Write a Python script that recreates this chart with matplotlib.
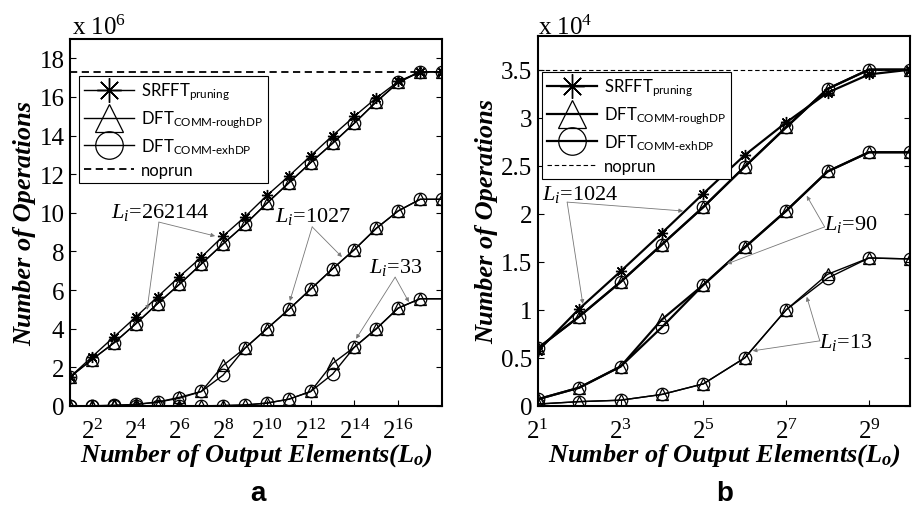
import matplotlib
matplotlib.use('Agg')
import matplotlib.pyplot as plt
import numpy as np

plt.rcParams['font.family'] = 'Liberation Serif'
plt.rcParams['mathtext.fontset'] = 'custom'
plt.rcParams['mathtext.rm'] = 'Liberation Serif'
plt.rcParams['mathtext.it'] = 'Liberation Serif:italic'
plt.rcParams['mathtext.bf'] = 'Liberation Serif:bold'
plt.rcParams['mathtext.bfit'] = 'Liberation Serif:italic:bold'

# panel a: Lo = 2^1 .. 2^18, values x 10^6
exp_a = np.arange(1, 19)
a_srfft_262144 = [1.5, 2.54, 3.57, 4.6, 5.65, 6.7, 7.7, 8.8, 9.8, 10.9, 11.9, 12.95, 14.0, 15.0, 15.95, 16.8, 17.3, 17.3]
a_rough_262144 = [1.5, 2.4, 3.26, 4.25, 5.3, 6.3, 7.35, 8.4, 9.4, 10.5, 11.55, 12.6, 13.6, 14.65, 15.75, 16.75, 17.3, 17.3]
a_exh_262144 = [1.5, 2.4, 3.26, 4.25, 5.3, 6.3, 7.35, 8.4, 9.4, 10.5, 11.55, 12.6, 13.6, 14.65, 15.75, 16.75, 17.3, 17.3]
a_rough_1027 = [0, 0.01, 0.03, 0.08, 0.2, 0.45, 0.75, 2.1, 3.0, 4.0, 5.0, 6.05, 7.1, 8.1, 9.2, 10.1, 10.7, 10.7]
a_exh_1027 = [0, 0.01, 0.03, 0.08, 0.2, 0.4, 0.75, 1.6, 3.0, 4.0, 5.0, 6.05, 7.1, 8.1, 9.2, 10.1, 10.7, 10.7]
a_rough_33 = [0, 0, 0, 0, 0, 0, 0.01, 0.02, 0.05, 0.15, 0.35, 0.75, 2.2, 3.05, 4.0, 5.07, 5.55, 5.55]
a_exh_33 = [0, 0, 0, 0, 0, 0, 0.01, 0.02, 0.05, 0.15, 0.35, 0.75, 1.65, 3.05, 4.0, 5.07, 5.55, 5.55]
a_noprun = 17.3

# panel b: Lo = 2^1 .. 2^10, values x 10^4
exp_b = np.arange(1, 11)
b_srfft_1024 = [0.57, 1.01, 1.40, 1.80, 2.21, 2.61, 2.95, 3.26, 3.45, 3.5]
b_rough_1024 = [0.6, 0.93, 1.29, 1.68, 2.07, 2.49, 2.9, 3.3, 3.5, 3.5]
b_exh_1024 = [0.6, 0.93, 1.29, 1.68, 2.07, 2.49, 2.9, 3.3, 3.5, 3.5]
b_rough_90 = [0.07, 0.19, 0.41, 0.9, 1.26, 1.65, 2.03, 2.44, 2.64, 2.64]
b_exh_90 = [0.07, 0.19, 0.41, 0.82, 1.26, 1.65, 2.03, 2.44, 2.64, 2.64]
b_rough_13 = [0.02, 0.045, 0.06, 0.12, 0.23, 0.5, 1.0, 1.37, 1.54, 1.53]
b_exh_13 = [0.02, 0.045, 0.06, 0.12, 0.23, 0.5, 1.0, 1.33, 1.54, 1.53]
b_noprun = 3.5

labels = [r'SRFFT$_{\mathregular{pruning}}$', r'DFT$_{\mathregular{COMM\text{-}roughDP}}$',
          r'DFT$_{\mathregular{COMM\text{-}exhDP}}$', 'noprun']

star = (8, 2, 0)
fig = plt.figure(figsize=(9.14, 5.06), dpi=100)
ax1 = fig.add_axes([0.0766, 0.1957, 0.407, 0.7253])
ax2 = fig.add_axes([0.5883, 0.1957, 0.4077, 0.7312])


def draw(ax, x, srfft, rough, exh, lw, last_marker=True):
    me = None if last_marker else slice(0, len(x) - 1)
    h = []
    if srfft is not None:
        h += ax.plot(x, srfft, color='k', lw=lw, marker=star, ms=8, mew=1.0, markevery=me)
    h += ax.plot(x, rough, color='k', lw=lw, marker='^', ms=9, mfc='none', mew=0.9, markevery=me)
    h += ax.plot(x, exh, color='k', lw=lw, marker='o', ms=9, mfc='none', mew=0.9, markevery=me)
    return h


xa = 2.0 ** exp_a
hs = draw(ax1, xa, a_srfft_262144, a_rough_262144, a_exh_262144, 1.0)
draw(ax1, xa, None, a_rough_1027, a_exh_1027, 1.0)
draw(ax1, xa, None, a_rough_33, a_exh_33, 1.0, last_marker=False)
hn = ax1.axhline(a_noprun, color='k', ls=(0, (4, 2.5)), lw=1.3)

xb = 2.0 ** exp_b
hsb = draw(ax2, xb, b_srfft_1024, b_rough_1024, b_exh_1024, 1.6)
draw(ax2, xb, None, b_rough_90, b_exh_90, 1.6)
draw(ax2, xb, None, b_rough_13, b_exh_13, 1.0)
hnb = ax2.axhline(b_noprun, color='k', ls=(0, (4, 2.5)), lw=0.8)

for ax, x, ymax, yt, xt in [(ax1, xa, 19.0, np.arange(0, 19, 2), range(2, 17, 2)),
                            (ax2, xb, 3.85, np.arange(0, 3.51, 0.5), range(1, 10, 2))]:
    ax.set_xscale('log', base=2)
    ax.set_xlim(x[0], x[-1])
    ax.set_ylim(0, ymax)
    ax.set_xticks([2.0 ** k for k in xt])
    ax.set_xticklabels(['$2^{%d}$' % k for k in xt])
    ax.minorticks_off()
    ax.set_yticks(yt)
    ax.set_yticklabels(['%g' % v for v in yt])
    ax.tick_params(direction='in', length=4, width=0.8, labelsize=18, right=True, top=False, pad=4)
    ax.tick_params(axis='x', pad=9)
    for s in ax.spines.values():
        s.set_linewidth(1.5)
    ax.set_ylabel('Number of Operations', fontsize=19, fontweight='bold', style='italic', labelpad=2)
    ax.set_xlabel(r'Number of Output Elements($\mathbfit{L_o}$)', fontsize=19,
                  fontweight='bold', style='italic', labelpad=-1)

legfont = {'family': 'Lato', 'size': 12}
for ax, hh, anchor in [(ax1, hs + [hn], (0.024, 0.899)), (ax2, hsb + [hnb], (0.012, 0.903))]:
    leg = ax.legend(hh, labels, loc='upper left', bbox_to_anchor=anchor, prop=legfont,
                    fancybox=False, edgecolor='k', framealpha=1, markerscale=2.2, handlelength=3.0,
                    labelspacing=0.38, borderpad=0.3, handletextpad=0.4, borderaxespad=0)
    leg.get_frame().set_linewidth(0.8)

fig.text(0.079, 0.945, r'x 10$^{6}$', fontsize=18, va='center')
fig.text(0.589, 0.945, r'x 10$^{4}$', fontsize=18, va='center')
fig.text(0.282, 0.01, 'a', fontsize=20, fontweight='bold', family='Liberation Sans', ha='center')
fig.text(0.793, 0.01, 'b', fontsize=20, fontweight='bold', family='Liberation Sans', ha='center')

# annotations: (text, text pos, corner, tips) in axes fraction
notes_a = [('262144', (0.242, 0.531), (0.239, 0.501), [(0.390, 0.463), (0.207, 0.262)]),
           ('1027', (0.653, 0.518), (0.651, 0.488), [(0.731, 0.406), (0.591, 0.286)]),
           ('33', (0.876, 0.379), (0.874, 0.351), [(0.911, 0.283), (0.769, 0.183)])]
notes_b = [('1024', (0.113, 0.573), (0.079, 0.551), [(0.390, 0.527), (0.121, 0.276)]),
           ('90', (0.840, 0.492), (0.770, 0.484), [(0.722, 0.568), (0.508, 0.384)]),
           ('13', (0.827, 0.173), (0.757, 0.176), [(0.722, 0.295), (0.577, 0.149)])]
for ax, notes in [(ax1, notes_a), (ax2, notes_b)]:
    for txt, tpos, corner, tips in notes:
        ax.text(tpos[0], tpos[1], r'$L_i$=' + txt, transform=ax.transAxes, fontsize=16,
                ha='center', va='center')
        for tip in tips:
            ax.annotate('', xy=tip, xycoords='axes fraction', xytext=corner, textcoords='axes fraction',
                        arrowprops=dict(arrowstyle='-|>', color='#777777', lw=0.6, mutation_scale=6,
                                        shrinkA=0, shrinkB=0))

fig.savefig('out.png', dpi=100)
